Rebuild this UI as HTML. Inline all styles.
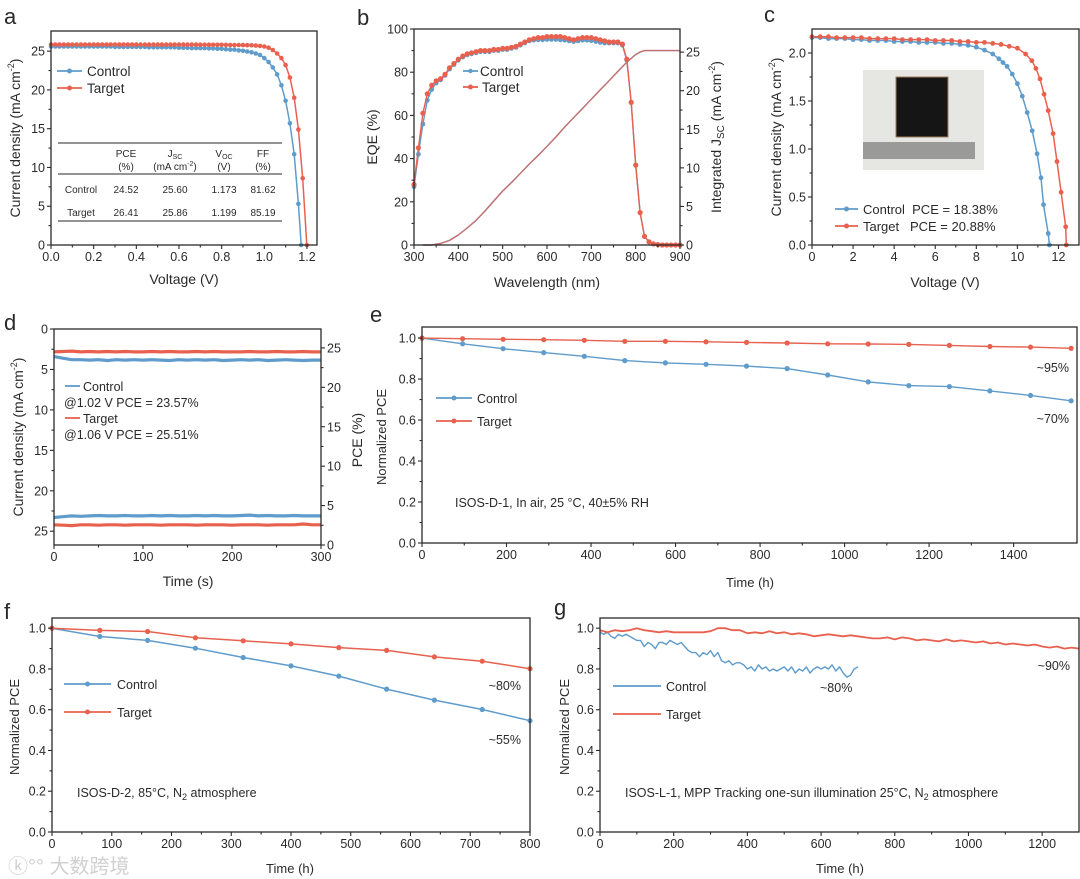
<!DOCTYPE html>
<html><head><meta charset="utf-8"><style>
html,body{margin:0;padding:0;background:#fff;}
svg{display:block;}
</style></head><body>
<svg id="fig" xmlns="http://www.w3.org/2000/svg" width="1080" height="879" viewBox="0 0 1080 879" font-family="'Liberation Sans', Arial, sans-serif"></svg>
<script>
// ---------- DATA ----------
// Panel a: J-V curves
const aVctrl=[0,0.02,0.04,0.06,0.08,0.10,0.12,0.14,0.16,0.18,0.20,0.22,0.24,0.26,0.28,0.30,0.32,0.34,0.36,0.38,0.40,0.42,0.44,0.46,0.48,0.50,0.52,0.54,0.56,0.58,0.60,0.62,0.64,0.66,0.68,0.70,0.72,0.74,0.76,0.78,0.80,0.82,0.84,0.86,0.88,0.90,0.92,0.94,0.96,0.98,1.00,1.02,1.04,1.06,1.08,1.10,1.12,1.14,1.16,1.173];
const aJctrl=[25.6,25.6,25.6,25.6,25.6,25.6,25.6,25.6,25.6,25.6,25.6,25.6,25.6,25.6,25.6,25.55,25.55,25.55,25.55,25.55,25.55,25.55,25.55,25.5,25.5,25.5,25.5,25.5,25.5,25.5,25.45,25.45,25.45,25.4,25.4,25.4,25.4,25.35,25.35,25.3,25.3,25.25,25.2,25.2,25.1,25.05,24.95,24.85,24.7,24.5,24.1,23.6,22.9,22.0,20.6,18.6,15.7,11.7,5.3,0];
const aVtgt=[0,0.02,0.04,0.06,0.08,0.10,0.12,0.14,0.16,0.18,0.20,0.22,0.24,0.26,0.28,0.30,0.32,0.34,0.36,0.38,0.40,0.42,0.44,0.46,0.48,0.50,0.52,0.54,0.56,0.58,0.60,0.62,0.64,0.66,0.68,0.70,0.72,0.74,0.76,0.78,0.80,0.82,0.84,0.86,0.88,0.90,0.92,0.94,0.96,0.98,1.00,1.02,1.04,1.06,1.08,1.10,1.12,1.14,1.16,1.18,1.199];
const aJtgt=[25.86,25.86,25.86,25.86,25.86,25.86,25.86,25.86,25.86,25.86,25.86,25.86,25.86,25.86,25.86,25.86,25.86,25.86,25.86,25.86,25.85,25.85,25.85,25.85,25.85,25.85,25.85,25.85,25.85,25.85,25.84,25.84,25.84,25.84,25.84,25.83,25.83,25.83,25.82,25.82,25.82,25.81,25.8,25.8,25.79,25.78,25.77,25.75,25.72,25.68,25.6,25.45,25.15,24.7,24.1,23.2,21.6,19.0,14.9,8.6,0];
const aXTicks=[0,0.2,0.4,0.6,0.8,1.0,1.2];
const aXLabels=['0.0','0.2','0.4','0.6','0.8','1.0','1.2'];
const aYTicks=[0,5,10,15,20,25];
const aYLabels=['0','5','10','15','20','25'];
// Panel b: EQE + integrated Jsc
const bW=[300,310,320,330,340,350,360,370,380,390,400,410,420,430,440,450,460,470,480,490,500,510,520,530,540,550,560,570,580,590,600,610,620,630,640,650,660,670,680,690,700,710,720,730,740,750,760,770,780,790,800,810,820,830,840,850,860,870,880,890,900];
const bEqeTgt=[28,45,61,70,74,76,77,79,82,84,86,87.5,88.5,89,89.5,90,90,90,90.5,90.5,91,91,91.5,92,93,94,95,95.5,96,96,96.5,96.5,96.5,96.5,96,95.5,95,95.5,96,96,96,95.5,95,94.5,94,94,94,93,86,66,37,15,4,1.5,0.5,0.2,0,0,0,0,0];
const bEqeCtrl=[27,42,56,67,72,75,76.5,78.5,81.5,83.5,85.5,87,88,88.5,89,89.5,89.5,89.5,90,90,90.5,90.5,91,91.5,92.5,93.5,94.5,94.8,95,95,95.2,95.2,95.2,95,94.8,94.5,94.2,94.5,94.8,94.8,94.6,94.2,93.8,93.5,93.5,93.5,93.5,92.5,85.5,66,37,15,4,1.5,0.5,0.2,0,0,0,0,0];
const bJw=[320,340,360,380,400,420,440,460,480,500,520,540,560,580,600,620,640,660,680,700,720,740,760,780,800,810,820,840,860,880,900];
const bJsc=[0,0,0.2,0.6,1.3,2.2,3.2,4.4,5.7,7.0,8.1,9.3,10.5,11.6,12.8,14.0,15.3,16.5,17.7,18.9,20.1,21.3,22.5,23.7,24.7,25.0,25.2,25.2,25.2,25.2,25.2];
const bXTicks=[300,400,500,600,700,800,900];
const bYLTicks=[0,20,40,60,80,100];
const bYRTicks=[0,5,10,15,20,25];
// Panel c: module J-V
const cVctrl=[0,0.4,0.8,1.2,1.6,2.0,2.4,2.8,3.2,3.6,4.0,4.4,4.8,5.2,5.6,6.0,6.4,6.8,7.2,7.6,8.0,8.4,8.8,9.1,9.3,9.5,9.75,10.0,10.24,10.48,10.72,10.96,11.15,11.27,11.5,11.56];
const cJctrl=[2.16,2.16,2.15,2.15,2.15,2.14,2.14,2.13,2.13,2.13,2.12,2.12,2.12,2.11,2.11,2.11,2.10,2.10,2.09,2.08,2.06,2.03,1.99,1.94,1.90,1.86,1.78,1.68,1.55,1.38,1.19,0.95,0.70,0.42,0.12,0];
const cVtgt=[0,0.4,0.8,1.2,1.6,2.0,2.4,2.8,3.2,3.6,4.0,4.4,4.8,5.2,5.6,6.0,6.4,6.8,7.2,7.6,8.0,8.4,8.8,9.2,9.6,10.0,10.4,10.7,10.9,11.1,11.3,11.5,11.74,11.93,12.13,12.35,12.38];
const cJtgt=[2.17,2.17,2.17,2.16,2.16,2.16,2.16,2.15,2.15,2.15,2.15,2.14,2.14,2.14,2.14,2.13,2.13,2.13,2.12,2.12,2.11,2.11,2.10,2.09,2.07,2.05,1.99,1.92,1.84,1.73,1.57,1.40,1.16,0.87,0.55,0.19,0];
const cXTicks=[0,2,4,6,8,10,12];
const cYTicks=[0,0.5,1.0,1.5,2.0];
const cYLabels=['0.0','0.5','1.0','1.5','2.0'];
// Panel d: stabilised output
const dT=[0,10,20,30,40,50,60,70,80,90,100,110,120,130,140,150,160,170,180,190,200,210,220,230,240,250,260,270,280,290,300];
const dPceCtrl=[23.9,23.7,23.5,23.5,23.45,23.5,23.4,23.5,23.45,23.5,23.45,23.5,23.45,23.4,23.5,23.45,23.5,23.45,23.5,23.4,23.45,23.5,23.45,23.5,23.4,23.45,23.5,23.45,23.4,23.45,23.45];
const dPceTgt=[24.5,24.55,24.6,24.5,24.55,24.5,24.55,24.5,24.55,24.5,24.5,24.55,24.5,24.55,24.5,24.5,24.55,24.5,24.55,24.5,24.5,24.5,24.55,24.5,24.5,24.55,24.5,24.5,24.55,24.5,24.5];
const dJCtrl=[23.3,23.2,23.1,23.15,23.1,23.05,23.1,23.1,23.05,23.1,23.1,23.05,23.1,23.05,23.1,23.1,23.05,23.1,23.05,23.1,23.1,23.05,23.0,23.1,23.05,23.1,23.1,23.05,23.1,23.1,23.1];
const dJTgt=[24.2,24.25,24.3,24.2,24.2,24.25,24.2,24.2,24.25,24.2,24.2,24.2,24.25,24.2,24.2,24.2,24.25,24.2,24.2,24.2,24.25,24.2,24.2,24.2,24.25,24.2,24.2,24.2,24.1,24.2,24.2];
const dXTicks=[0,100,200,300];
const dYLTicks=[0,5,10,15,20,25];
const dYRTicks=[0,5,10,15,20,25];
// Panel e: ISOS-D-1
const eT=[0,96,192,288,384,480,576,672,768,864,960,1056,1152,1248,1344,1440,1536];
const eCtrl=[1.0,0.972,0.948,0.929,0.911,0.890,0.879,0.872,0.863,0.851,0.820,0.786,0.768,0.763,0.742,0.720,0.694];
const eTgt=[1.0,0.997,0.994,0.992,0.989,0.984,0.984,0.982,0.979,0.976,0.972,0.971,0.969,0.964,0.959,0.956,0.950];
const eXTicks=[0,200,400,600,800,1000,1200,1400];
const pYTicks=[0,0.2,0.4,0.6,0.8,1.0];
const pYLabels=['0.0','0.2','0.4','0.6','0.8','1.0'];
// Panel f: ISOS-D-2
const fT=[0,80,160,240,320,400,480,560,640,720,800];
const fCtrl=[1.0,0.959,0.940,0.902,0.856,0.815,0.765,0.701,0.647,0.601,0.546];
const fTgt=[1.0,0.989,0.984,0.953,0.938,0.923,0.905,0.891,0.859,0.838,0.801];
const fXTicks=[0,100,200,300,400,500,600,700,800];
// Panel g: ISOS-L-1 MPP tracking
const gTc=[0,10,20,30,40,50,60,70,80,90,100,110,120,130,140,150,160,170,180,190,200,210,220,230,240,250,260,270,280,290,300,310,320,330,340,350,360,370,380,390,400,410,420,430,440,450,460,470,480,490,500,510,520,530,540,550,560,570,580,590,600,610,620,630,640,650,660,670,680,690,700];
const gCtrl=[0.98,0.97,0.98,0.96,0.95,0.97,0.96,0.97,0.96,0.95,0.94,0.94,0.91,0.93,0.92,0.90,0.93,0.93,0.92,0.94,0.93,0.92,0.93,0.91,0.89,0.88,0.88,0.86,0.88,0.87,0.89,0.86,0.88,0.84,0.83,0.84,0.82,0.83,0.83,0.82,0.80,0.81,0.79,0.82,0.80,0.81,0.79,0.80,0.79,0.80,0.81,0.79,0.81,0.78,0.80,0.79,0.81,0.78,0.80,0.81,0.80,0.81,0.80,0.82,0.79,0.81,0.78,0.76,0.77,0.80,0.81];
const gTt=[0,20,40,60,80,100,120,140,160,180,200,220,240,260,280,300,320,340,360,380,400,420,440,460,480,500,520,540,560,580,600,620,640,660,680,700,720,740,760,780,800,820,840,860,880,900,920,940,960,980,1000,1020,1040,1060,1080,1100,1120,1140,1160,1180,1200,1220,1240,1260,1280,1300];
const gTgt=[0.99,0.98,0.99,0.985,0.99,1.0,0.99,0.985,0.98,0.985,0.98,0.98,0.98,0.98,0.98,0.985,1.0,1.0,0.99,0.99,0.975,0.98,0.975,0.985,0.975,0.98,0.97,0.975,0.97,0.96,0.965,0.97,0.965,0.96,0.965,0.96,0.955,0.95,0.95,0.955,0.945,0.955,0.95,0.94,0.945,0.94,0.935,0.945,0.935,0.94,0.935,0.93,0.935,0.925,0.93,0.92,0.925,0.92,0.915,0.92,0.91,0.905,0.91,0.90,0.905,0.90];
const gXTicks=[0,200,400,600,800,1000,1200];

// ---------- DRAWING ----------
const NS='http://www.w3.org/2000/svg';
const svg=document.getElementById('fig');
const BLUE='#5f9ccb', RED='#e8614f', INK='#2a2a2a';
function lin(d0,d1,r0,r1){return v=>r0+(v-d0)*(r1-r0)/(d1-d0);}
function mk(tag,parent){const e=document.createElementNS(NS,tag);(parent||svg).appendChild(e);return e;}
function text(name,x,y,str,size,anchor,rot){
  const e=mk('text');
  
  
  e.setAttribute('x',x);e.setAttribute('y',y);
  e.setAttribute('font-size',size);e.setAttribute('fill',INK);
  e.setAttribute('text-anchor',anchor||'start');
  if(rot) e.setAttribute('transform','rotate('+rot+' '+x+' '+y+')');
  e.innerHTML=str;
  return e;
}
function frame(name,L,T,R,B){
  const r=mk('rect');
  
  
  r.setAttribute('x',L);r.setAttribute('y',T);r.setAttribute('width',R-L);r.setAttribute('height',B-T);
  r.setAttribute('fill','none');r.setAttribute('stroke',INK);r.setAttribute('stroke-width','1.3');
}
function tick(name,x1,y1,x2,y2){
  const l=mk('line');
  
  
  l.setAttribute('x1',x1);l.setAttribute('y1',y1);l.setAttribute('x2',x2);l.setAttribute('y2',y2);
  l.setAttribute('stroke',INK);l.setAttribute('stroke-width','1.1');
}
function xAxis(p,sx,ticks,labels,B){
  ticks.forEach((t,i)=>{
    const x=sx(t);
    tick(p+'-x-tick',x,B,x,B+4);
    text(p+'-x-tick-label',x,B+16,labels?labels[i]:String(t),12.5,'middle');
    if(i<ticks.length-1){const m=sx((t+ticks[i+1])/2);tick(p+'-x-minor-tick',m,B,m,B+2.5);}
  });
}
function yAxis(p,sy,ticks,labels,X,side){
  ticks.forEach((t,i)=>{
    const y=sy(t);
    tick(p+'-y-tick',X,y,X+4*side,y);
    text(p+'-y-tick-label',X+6*side,y+4.5,labels?labels[i]:String(t),12.5,side<0?'end':'start');
    if(i<ticks.length-1){const m=sy((t+ticks[i+1])/2);tick(p+'-y-minor-tick',X,m,X+2.5*side,m);}
  });
}
function series(name,xs,ys,sx,sy,color,w,r){
  const pl=mk('polyline');
  
  
  pl.setAttribute('points',xs.map((x,i)=>sx(x).toFixed(1)+','+sy(ys[i]).toFixed(1)).join(' '));
  pl.setAttribute('fill','none');pl.setAttribute('stroke',color);pl.setAttribute('stroke-width',w);
  pl.setAttribute('stroke-linejoin','round');
  if(r){xs.forEach((x,i)=>{
    const c=mk('circle');
    
    
    c.setAttribute('cx',sx(x).toFixed(1));c.setAttribute('cy',sy(ys[i]).toFixed(1));c.setAttribute('r',r);c.setAttribute('fill',color);
  });}
}
function legLine(name,x1,x2,y,color,r){
  const l=mk('line');
  
  
  l.setAttribute('x1',x1);l.setAttribute('x2',x2);l.setAttribute('y1',y);l.setAttribute('y2',y);
  l.setAttribute('stroke',color);l.setAttribute('stroke-width','1.8');
  if(r){const c=mk('circle');
    
    
    c.setAttribute('cx',(x1+x2)/2);c.setAttribute('cy',y);c.setAttribute('r',r);c.setAttribute('fill',color);}
}
function hline(name,x1,x2,y){
  const l=mk('line');
  
  
  l.setAttribute('x1',x1);l.setAttribute('x2',x2);l.setAttribute('y1',y);l.setAttribute('y2',y);
  l.setAttribute('stroke',INK);l.setAttribute('stroke-width','1');
}
const SUP2='<tspan font-size="9" dy="-6">-2</tspan><tspan dy="6">)</tspan>';

// ===== Panel a =====
const ax=lin(0,1.247,51,317), ay=lin(0,27.6,245,31);
text('panel-a-letter',4,24,'a',22);
series('a-control',aVctrl,aJctrl,ax,ay,BLUE,1.5,2.3);
series('a-target',aVtgt,aJtgt,ax,ay,RED,1.5,2.3);
frame('a-plot-frame',51,31,317,245);
xAxis('a',ax,aXTicks,aXLabels,245);
yAxis('a',ay,aYTicks,aYLabels,51,-1);
text('a-x-axis-title',184,284,'Voltage (V)',14,'middle');
text('a-y-axis-title',20,138,'Current density (mA cm'+SUP2,14,'middle',-90);
legLine('a-legend-control-line',57,82,71,BLUE,2.5);
text('a-legend-control-label',87,76,'Control',13.5);
legLine('a-legend-target-line',57,82,88,RED,2.5);
text('a-legend-target-label',87,93,'Target',13.5);
hline('a-table-top-rule',58,282,143);hline('a-table-header-rule',58,282,174);hline('a-table-bottom-rule',58,282,221);
text('a-table-head-pce',126,157,'PCE',10,'middle');text('a-table-head-pce-unit',126,170,'(%)',10,'middle');
text('a-table-head-jsc',175,157,'J<tspan font-size="7" dy="2">SC</tspan>',10,'middle');text('a-table-head-jsc-unit',175,170,'(mA cm<tspan font-size="7" dy="-4">-2</tspan><tspan dy="4">)</tspan>',10,'middle');
text('a-table-head-voc',224,157,'V<tspan font-size="7" dy="2">OC</tspan>',10,'middle');text('a-table-head-voc-unit',224,170,'(V)',10,'middle');
text('a-table-head-ff',263,157,'FF',10,'middle');text('a-table-head-ff-unit',263,170,'(%)',10,'middle');
text('a-table-row-control',81,193,'Control',10,'middle');
text('a-table-control-pce',126,193,'24.52',10,'middle');text('a-table-control-jsc',175,193,'25.60',10,'middle');
text('a-table-control-voc',224,193,'1.173',10,'middle');text('a-table-control-ff',263,193,'81.62',10,'middle');
text('a-table-row-target',81,216,'Target',10,'middle');
text('a-table-target-pce',126,216,'26.41',10,'middle');text('a-table-target-jsc',175,216,'25.86',10,'middle');
text('a-table-target-voc',224,216,'1.199',10,'middle');text('a-table-target-ff',263,216,'85.19',10,'middle');

// ===== Panel b =====
const bx=lin(300,900,414,680), byL=lin(0,100,245,29), byR=lin(0,28,245,29);
text('panel-b-letter',357,25,'b',22);
series('b-jsc-control',bJw,bJsc,bx,byR,BLUE,1.4,0);
series('b-jsc-target',bJw,bJsc,bx,byR,'rgba(232,97,79,0.75)',1.4,0);
series('b-eqe-control',bW,bEqeCtrl,bx,byL,BLUE,1.4,2.4);
series('b-eqe-target',bW,bEqeTgt,bx,byL,RED,1.4,2.6);
frame('b-plot-frame',414,29,680,245);
xAxis('b',bx,bXTicks,null,245);
yAxis('b-left',byL,bYLTicks,null,414,-1);
yAxis('b-right',byR,bYRTicks,null,680,1);
text('b-x-axis-title',547,287,'Wavelength (nm)',14,'middle');
text('b-y-left-axis-title',377,137,'EQE (%)',14,'middle',-90);
text('b-y-right-axis-title',721,137,'Integrated J<tspan font-size="10" dy="3">SC</tspan><tspan dy="-3"> (mA cm</tspan>'+SUP2,14,'middle',-90);
legLine('b-legend-control-line',463,478,71,BLUE,2.2);
text('b-legend-control-label',480,76,'Control',13.5);
legLine('b-legend-target-line',463,478,87,RED,2.5);
text('b-legend-target-label',482,92,'Target',13.5);

// ===== Panel c =====
const cx=lin(0,13,812,1079), cy=lin(0,2.25,245,29);
text('panel-c-letter',764,22,'c',22);
(function(){
  const g=mk('g');
  
  
  const bg=mk('rect',g);bg.setAttribute('x',863);bg.setAttribute('y',70);bg.setAttribute('width',121);bg.setAttribute('height',100);bg.setAttribute('fill','#e6e6e3');
  const sq=mk('rect',g);sq.setAttribute('x',896);sq.setAttribute('y',77);sq.setAttribute('width',52);sq.setAttribute('height',60);sq.setAttribute('fill','#151515');sq.setAttribute('stroke','#a07a5a');sq.setAttribute('stroke-width','1');
  const ru=mk('rect',g);ru.setAttribute('x',863);ru.setAttribute('y',142);ru.setAttribute('width',112);ru.setAttribute('height',17);ru.setAttribute('fill','#9a9a98');
})();
series('c-control',cVctrl,cJctrl,cx,cy,BLUE,1.5,2.4);
series('c-target',cVtgt,cJtgt,cx,cy,RED,1.5,2.4);
frame('c-plot-frame',812,29,1079,245);
xAxis('c',cx,cXTicks,null,245);
yAxis('c',cy,cYTicks,cYLabels,812,-1);
text('c-x-axis-title',945,287,'Voltage (V)',14,'middle');
text('c-y-axis-title',781,137,'Current density (mA cm'+SUP2,14,'middle',-90);
legLine('c-legend-control-line',835,858,209,BLUE,2.5);
text('c-legend-control-label',863,214,'Control&#160; PCE = 18.38%',13);
legLine('c-legend-target-line',835,858,226,RED,2.5);
text('c-legend-target-label',863,231,'Target&#160;&#160; PCE = 20.88%',13);

// ===== Panel d =====
const dx=lin(0,300,54,321), dyL=lin(0,26.7,329,545), dyR=lin(0,27.4,545,329);
text('panel-d-letter',4,330,'d',22);
series('d-pce-control',dT,dPceCtrl,dx,dyR,BLUE,3.2,0);
series('d-pce-target',dT,dPceTgt,dx,dyR,RED,3.2,0);
series('d-jsc-control',dT,dJCtrl,dx,dyL,BLUE,3.2,0);
series('d-jsc-target',dT,dJTgt,dx,dyL,RED,3.2,0);
frame('d-plot-frame',54,329,321,545);
xAxis('d',dx,dXTicks,null,545);
yAxis('d-left',dyL,dYLTicks,null,54,-1);
yAxis('d-right',dyR,dYRTicks,null,321,1);
text('d-x-axis-title',188,586,'Time (s)',14,'middle');
text('d-y-left-axis-title',23,437,'Current density (mA cm'+SUP2,14,'middle',-90);
text('d-y-right-axis-title',362,440,'PCE (%)',14,'middle',-90);
legLine('d-legend-control-line',65,80,386,BLUE,0);
text('d-legend-control-label',83,391,'Control',12.5);
text('d-legend-control-note',64,407,'@1.02 V PCE = 23.57%',12.5);
legLine('d-legend-target-line',65,80,418,RED,0);
text('d-legend-target-label',83,423,'Target',12.5);
text('d-legend-target-note',64,439,'@1.06 V PCE = 25.51%',12.5);

// ===== Panel e =====
const ex=lin(0,1550,422,1077), ey=lin(0,1.054,543,327);
text('panel-e-letter',370,322,'e',22);
series('e-control',eT,eCtrl,ex,ey,BLUE,1.4,2.6);
series('e-target',eT,eTgt,ex,ey,RED,1.4,2.6);
frame('e-plot-frame',422,327,1077,543);
xAxis('e',ex,eXTicks,null,543);
yAxis('e',ey,pYTicks,pYLabels,422,-1);
text('e-x-axis-title',750,587,'Time (h)',13,'middle');
text('e-y-axis-title',386,437,'Normalized PCE',13,'middle',-90);
legLine('e-legend-control-line',436,472,398,BLUE,2.5);
text('e-legend-control-label',477,403,'Control',12.5);
legLine('e-legend-target-line',436,472,421,RED,2.5);
text('e-legend-target-label',477,426,'Target',12.5);
text('e-annotation-target',1069,372,'~95%',12.5,'end');
text('e-annotation-control',1069,423,'~70%',12.5,'end');
text('e-condition-label',455,507,'ISOS-D-1, In air, 25 °C, 40±5% RH',12.5);

// ===== Panel f =====
const fx=lin(0,800,52,530), fy=lin(0,1.05,832,618);
text('panel-f-letter',4,619,'f',22);
series('f-control',fT,fCtrl,fx,fy,BLUE,1.5,2.6);
series('f-target',fT,fTgt,fx,fy,RED,1.5,2.6);
frame('f-plot-frame',52,618,530,832);
xAxis('f',fx,fXTicks,null,832);
yAxis('f',fy,pYTicks,pYLabels,52,-1);
text('f-x-axis-title',290,873,'Time (h)',13,'middle');
text('f-y-axis-title',19,727,'Normalized PCE',13,'middle',-90);
legLine('f-legend-control-line',64,111,684,BLUE,2.5);
text('f-legend-control-label',117,689,'Control',12.5);
legLine('f-legend-target-line',64,111,712,RED,2.5);
text('f-legend-target-label',117,717,'Target',12.5);
text('f-annotation-target',521,690,'~80%',12.5,'end');
text('f-annotation-control',521,744,'~55%',12.5,'end');
text('f-condition-label',77,797,'ISOS-D-2, 85°C, N<tspan font-size="9" dy="3">2</tspan><tspan dy="-3"> atmosphere</tspan>',12.5);
(function(){const w=text('watermark',8,873,'ⓚ°° 大数跨境',20);w.setAttribute('fill','#d0d0d0');w.setAttribute('font-family',"'Liberation Sans','Noto Sans CJK SC',sans-serif");})();

// ===== Panel g =====
const gx=lin(0,1300,600,1079), gy=lin(0,1.05,832,618);
text('panel-g-letter',554,615,'g',22);
series('g-control',gTc,gCtrl,gx,gy,BLUE,1.4,0);
series('g-target',gTt,gTgt,gx,gy,RED,1.8,0);
frame('g-plot-frame',600,618,1079,832);
xAxis('g',gx,gXTicks,null,832);
yAxis('g',gy,pYTicks,pYLabels,600,-1);
text('g-x-axis-title',840,873,'Time (h)',13,'middle');
text('g-y-axis-title',569,727,'Normalized PCE',13,'middle',-90);
legLine('g-legend-control-line',613,661,686,BLUE,0);
text('g-legend-control-label',666,691,'Control',12.5);
legLine('g-legend-target-line',613,661,714,RED,0);
text('g-legend-target-label',666,719,'Target',12.5);
text('g-annotation-control',820,692,'~80%',12.5);
text('g-annotation-target',1070,670,'~90%',12.5,'end');
text('g-condition-label',625,797,'ISOS-L-1, MPP Tracking one-sun illumination 25°C, N<tspan font-size="9" dy="3">2</tspan><tspan dy="-3"> atmosphere</tspan>',12.5);
</script>
</body></html>
